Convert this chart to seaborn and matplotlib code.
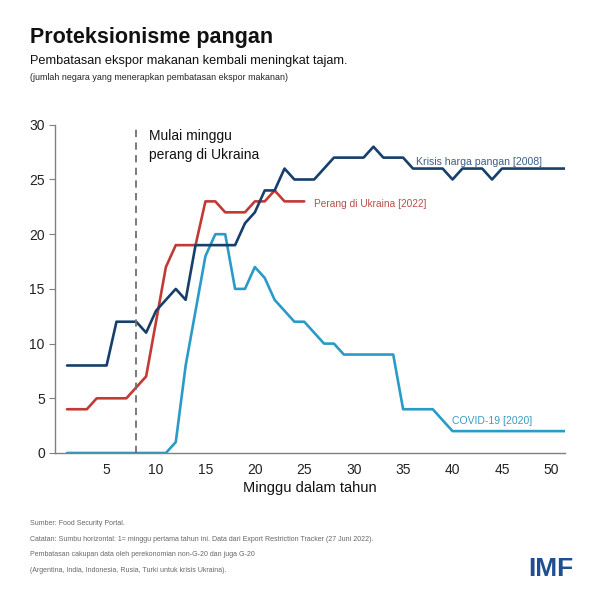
import matplotlib
matplotlib.use("Agg")
import matplotlib.pyplot as plt
import pandas as pd
import seaborn as sns

# data (number of countries with export restrictions)
weeks = list(range(1, 53))
krisis_2008 = [8, 8, 8, 8, 8, 12, 12, 12, 11, 13, 14, 15, 14, 19, 19, 19, 19, 19, 21, 22,
               24, 24, 26, 25, 25, 25, 26, 27, 27, 27, 27, 28, 27, 27, 27, 26, 26, 26, 26, 25,
               26, 26, 26, 25, 26, 26, 26, 26, 26, 26, 26, 26]
ukraina_2022 = [4, 4, 4, 5, 5, 5, 5, 6, 7, 12, 17, 19, 19, 19, 23, 23, 22, 22, 22, 23,
                23, 24, 23, 23, 23]
covid_2020 = [0, 0, 0, 0, 0, 0, 0, 0, 0, 0, 0, 1, 8, 13, 18, 20, 20, 15, 15, 17,
              16, 14, 13, 12, 12, 11, 10, 10, 9, 9, 9, 9, 9, 9, 4, 4, 4, 4, 3, 2,
              2, 2, 2, 2, 2, 2, 2, 2, 2, 2, 2, 2]
perang_mulai = 8
x_ticks = [5, 10, 15, 20, 25, 30, 35, 40, 45, 50]
y_ticks = [0, 5, 10, 15, 20, 25, 30]

navy = '#173f6b'
red = '#c23a36'
light = '#2a9bc8'

sns.set_style('white')
plt.rcParams['font.family'] = ['Liberation Sans', 'DejaVu Sans']

fig = plt.figure(figsize=(6, 6), dpi=100)
ax = fig.add_axes([0.092, 0.245, 0.85, 0.547])

df08 = pd.DataFrame({'week': weeks, 'value': krisis_2008})
df22 = pd.DataFrame({'week': weeks[:len(ukraina_2022)], 'value': ukraina_2022})
df20 = pd.DataFrame({'week': weeks, 'value': covid_2020})

sns.lineplot(data=df20, x='week', y='value', color=light, linewidth=1.9, ax=ax)
sns.lineplot(data=df22, x='week', y='value', color=red, linewidth=1.9, ax=ax)
sns.lineplot(data=df08, x='week', y='value', color=navy, linewidth=1.9, ax=ax)

ax.axvline(perang_mulai, color='#707070', linestyle=(0, (4, 3)), linewidth=1.3)

ax.set_xlim(-0.2, 51.4)
ax.set_ylim(0, 30)
ax.set_xticks(x_ticks)
ax.set_yticks(y_ticks)
ax.tick_params(axis='both', labelsize=10, colors='#222222')
ax.tick_params(axis='y', length=4, color='#808080', direction='out', left=True)
ax.tick_params(axis='x', length=0, pad=7)
for s in ['top', 'right']:
    ax.spines[s].set_visible(False)
for s in ['left', 'bottom']:
    ax.spines[s].set_color('#808080')
    ax.spines[s].set_linewidth(1.0)
ax.set_xlabel('Minggu dalam tahun', fontsize=10.5, color='#111111', labelpad=3)
ax.set_ylabel('')

# annotations
ax.text(9.3, 29.6, 'Mulai minggu\nperang di Ukraina', fontsize=10, color='#111111',
        va='top', linespacing=1.45)
ax.text(36.3, 26.6, 'Krisis harga pangan [2008]', fontsize=7.6, color='#3d5f88',
        va='center')
ax.text(26.0, 22.8, 'Perang di Ukraina [2022]', fontsize=7.3, color='#b5504c',
        va='center')
ax.text(39.9, 2.9, 'COVID-19 [2020]', fontsize=7.5, color='#3a9cc4',
        va='center')

# titles
fig.text(0.05, 0.937, 'Proteksionisme pangan', fontsize=15.5, fontweight='bold',
         color='#111111', va='center')
fig.text(0.05, 0.898, 'Pembatasan ekspor makanan kembali meningkat tajam.', fontsize=9.2,
         color='#111111', va='center')
fig.text(0.05, 0.871, '(jumlah negara yang menerapkan pembatasan ekspor makanan)', fontsize=6.4,
         color='#222222', va='center')

# footnotes
notes = ['Sumber: Food Security Portal.',
         'Catatan: Sumbu horizontal: 1= minggu pertama tahun ini. Data dari Export Restriction Tracker (27 Juni 2022).',
         'Pembatasan cakupan data oleh perekonomian non-G-20 dan juga G-20',
         '(Argentina, India, Indonesia, Rusia, Turki untuk krisis Ukraina).']
for i, line in enumerate(notes):
    fig.text(0.05, 0.128 - i * 0.0265, line, fontsize=5.0, color='#666666', va='center')

fig.text(0.955, 0.052, 'IMF', fontsize=19, fontweight='heavy', color='#1d4f91',
         ha='right', va='center')

fig.savefig('out.png', dpi=100)
plt.close()
